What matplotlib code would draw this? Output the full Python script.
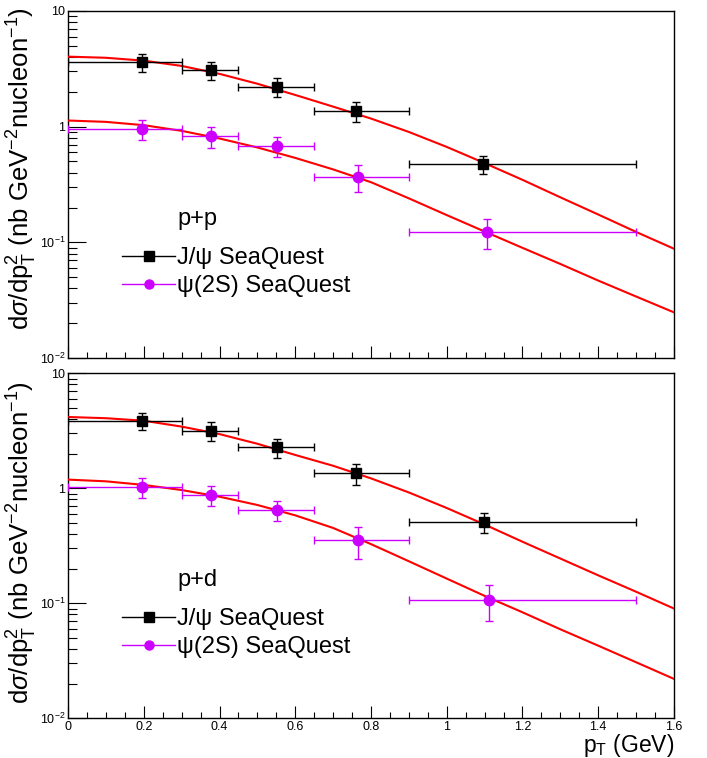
import numpy as np
import matplotlib
matplotlib.use("Agg")
import matplotlib.pyplot as plt
from matplotlib.lines import Line2D
from matplotlib.ticker import LogLocator, MultipleLocator, FixedLocator, FixedFormatter, NullFormatter

plt.rcParams['font.family'] = ['Liberation Sans', 'DejaVu Sans']
plt.rcParams['mathtext.fontset'] = 'custom'
plt.rcParams['mathtext.rm'] = 'Liberation Sans'
plt.rcParams['mathtext.it'] = 'Liberation Sans:italic'

# bins (GeV)
pt_lo = [0.0, 0.3, 0.45, 0.65, 0.9]
pt_hi = [0.3, 0.45, 0.65, 0.9, 1.5]

# p+p
pp_jpsi_x = [0.196, 0.378, 0.553, 0.760, 1.096]
pp_jpsi_y = [3.62, 3.07, 2.22, 1.37, 0.476]
pp_jpsi_err = [0.63, 0.55, 0.40, 0.27, 0.087]
pp_psi_x = [0.196, 0.378, 0.553, 0.765, 1.106]
pp_psi_y = [0.96, 0.83, 0.676, 0.37, 0.123]
pp_psi_err = [0.19, 0.17, 0.13, 0.10, 0.035]

# p+d
pd_jpsi_x = [0.196, 0.378, 0.553, 0.760, 1.099]
pd_jpsi_y = [3.87, 3.17, 2.27, 1.35, 0.506]
pd_jpsi_err = [0.65, 0.58, 0.43, 0.29, 0.10]
pd_psi_x = [0.196, 0.378, 0.553, 0.765, 1.112]
pd_psi_y = [1.03, 0.87, 0.648, 0.355, 0.107]
pd_psi_err = [0.20, 0.17, 0.13, 0.11, 0.037]

# fit curves
fit_x = [0.0, 0.1, 0.2, 0.3, 0.4, 0.5, 0.6, 0.7, 0.8, 0.9, 1.0, 1.1, 1.2, 1.3, 1.4, 1.5, 1.6]
pp_jpsi_fit = [4.03, 3.94, 3.72, 3.35, 2.86, 2.35, 1.88, 1.49, 1.175, 0.90, 0.668, 0.484, 0.347, 0.245, 0.174, 0.123, 0.088]
pp_psi_fit = [1.13, 1.10, 1.03, 0.92, 0.79, 0.661, 0.537, 0.427, 0.331, 0.24, 0.172, 0.124, 0.0896, 0.065, 0.0467, 0.034, 0.0248]
pd_jpsi_fit = [4.17, 4.07, 3.87, 3.44, 2.96, 2.44, 1.95, 1.57, 1.22, 0.92, 0.674, 0.484, 0.343, 0.245, 0.175, 0.126, 0.090]
pd_psi_fit = [1.19, 1.15, 1.07, 0.966, 0.845, 0.716, 0.582, 0.452, 0.327, 0.232, 0.164, 0.116, 0.0835, 0.0594, 0.0428, 0.0307, 0.022]

xticks = [0, 0.2, 0.4, 0.6, 0.8, 1.0, 1.2, 1.4, 1.6]
xtick_labels = ['0', '0.2', '0.4', '0.6', '0.8', '1', '1.2', '1.4', '1.6']
yticks = [0.01, 0.1, 1, 10]
ytick_labels = [r'$10^{-2}$', r'$10^{-1}$', '1', '10']

violet = '#cc00ff'

fig = plt.figure(figsize=(7.07, 7.58), dpi=100)
ax_top = fig.add_axes([0.0962, 0.5277, 0.8571, 0.4578])
ax_bot = fig.add_axes([0.0962, 0.0524, 0.8571, 0.4551])


def draw_panel(ax, jx, jy, je, px, py, pe, jfit, pfit, label, show_x):
    xlo_j = np.array(jx) - np.array(pt_lo)
    xhi_j = np.array(pt_hi) - np.array(jx)
    xlo_p = np.array(px) - np.array(pt_lo)
    xhi_p = np.array(pt_hi) - np.array(px)
    ax.plot(fit_x, jfit, color='red', lw=1.5, zorder=3)
    ax.plot(fit_x, pfit, color='red', lw=1.5, zorder=3)
    ax.errorbar(jx, jy, yerr=je, xerr=[xlo_j, xhi_j], fmt='s', color='black',
                ms=7.5, elinewidth=1, capsize=3, capthick=1, zorder=4)
    ax.errorbar(px, py, yerr=pe, xerr=[xlo_p, xhi_p], fmt='o', color=violet,
                ms=7.5, elinewidth=1, capsize=3, capthick=1, zorder=4)

    ax.set_yscale('log')
    ax.set_xlim(0, 1.6)
    ax.set_ylim(0.01, 10)
    ax.yaxis.set_major_locator(FixedLocator(yticks))
    ax.yaxis.set_major_formatter(FixedFormatter(ytick_labels))
    ax.yaxis.set_minor_locator(LogLocator(base=10, subs=np.arange(2, 10)))
    ax.yaxis.set_minor_formatter(NullFormatter())
    ax.xaxis.set_major_locator(FixedLocator(xticks))
    ax.xaxis.set_minor_locator(MultipleLocator(0.05))
    if show_x:
        ax.xaxis.set_major_formatter(FixedFormatter(xtick_labels))
    else:
        ax.xaxis.set_major_formatter(NullFormatter())
    ax.tick_params(axis='both', which='both', direction='in', top=False, right=False,
                   labelsize=9, width=0.8)
    ax.tick_params(axis='y', which='major', length=13, pad=2)
    ax.tick_params(axis='y', which='minor', length=6.5)
    ax.tick_params(axis='x', which='major', length=8.5, pad=2)
    ax.tick_params(axis='x', which='minor', length=4.3)
    for s in ax.spines.values():
        s.set_linewidth(1.0)

    ax.text(0.18, 0.40, label, transform=ax.transAxes, fontsize=17, va='center', ha='left')
    handles = [Line2D([], [], color='black', marker='s', ms=6.5, lw=1),
               Line2D([], [], color=violet, marker='o', ms=6.5, lw=1)]
    ax.legend(handles, ['J/ψ SeaQuest', 'ψ(2S) SeaQuest'], loc='upper left',
              bbox_to_anchor=(0.089, 0.32), frameon=False, fontsize=17,
              handlelength=2.25, handletextpad=0.08, labelspacing=0.27,
              borderpad=0, borderaxespad=0)


draw_panel(ax_top, pp_jpsi_x, pp_jpsi_y, pp_jpsi_err, pp_psi_x, pp_psi_y, pp_psi_err,
           pp_jpsi_fit, pp_psi_fit, 'p+p', False)
draw_panel(ax_bot, pd_jpsi_x, pd_jpsi_y, pd_jpsi_err, pd_psi_x, pd_psi_y, pd_psi_err,
           pd_jpsi_fit, pd_psi_fit, 'p+d', True)

ylab = r'd$\sigma$/dp$_{\mathrm{T}}^{2}$ (nb GeV$^{-2}$nucleon$^{-1}$)'
fig.text(0.031, 0.99, ylab, rotation=90, ha='center', va='top', fontsize=18.5)
fig.text(0.031, 0.497, ylab, rotation=90, ha='center', va='top', fontsize=18.5)
fig.text(0.953, 0.017, r'p$_{\mathrm{T}}$ (GeV)', ha='right', va='center', fontsize=16.5)

fig.savefig('out.png', dpi=100)
